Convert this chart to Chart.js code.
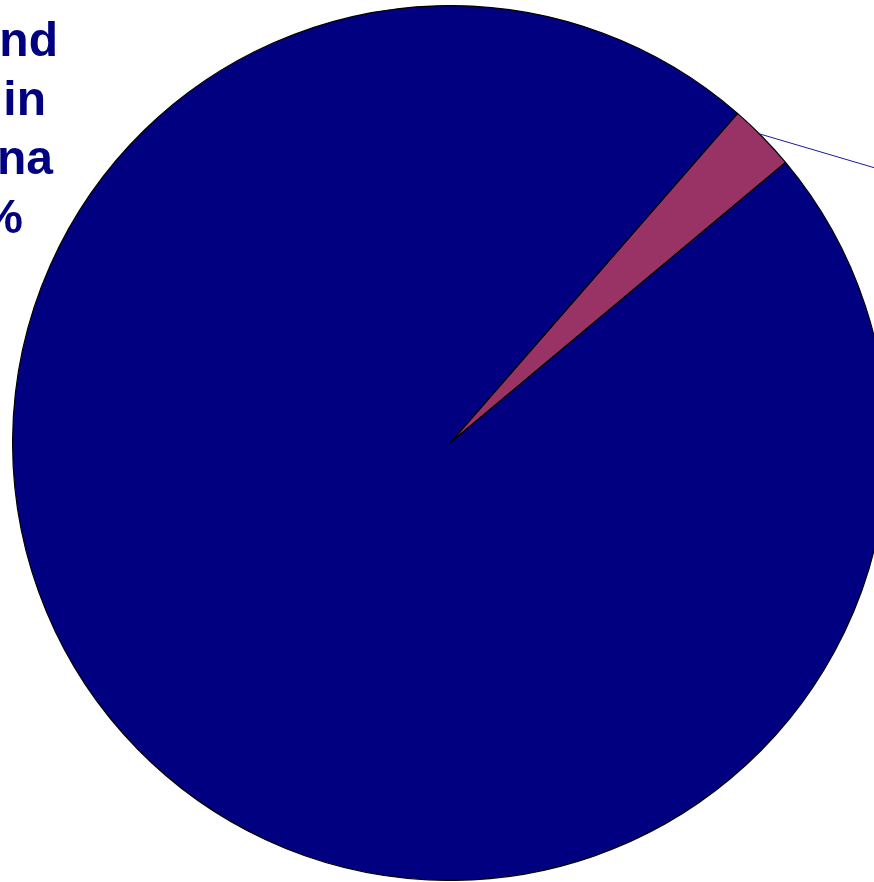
<!DOCTYPE html>
<html>
<head>
<meta charset="utf-8">
<script src="https://cdn.jsdelivr.net/npm/chart.js@4.4.1/dist/chart.umd.min.js"></script>
<style>
  html, body { margin: 0; padding: 0; width: 874px; height: 882px; overflow: hidden; background: #fff; }
  #wrap { position: absolute; left: 12px; top: 5px; width: 876px; height: 876px; }
  .lbl { font: bold 48px "Liberation Sans", Arial, sans-serif; color: #000080; white-space: nowrap; text-align: right; line-height: 59px; }
  #txt { position: absolute; left: -300px; top: 10px; width: 360px; }
</style>
</head>
<body>
<div id="wrap"><canvas id="pie"></canvas></div>
<div id="txt"></div>
<script>
// valori
const labels = ["Small share", "Rest of land in China"];
const values = [2.5, 97.5];
const colors = ["#993366", "#000080"];
const textLines = ["Farmland", "used in", "China", "97%"];
const textPad = [2, 14, 7, 37];

// testo in alto a sinistra (tagliato dal bordo)
const txt = document.getElementById("txt");
textLines.forEach((t, i) => {
  const d = document.createElement("div");
  d.className = "lbl";
  d.style.paddingRight = textPad[i] + "px";
  d.textContent = t;
  txt.appendChild(d);
});

// linea di richiamo verso l'etichetta fuori quadro
const leader = {
  id: "leader",
  afterDraw(chart) {
    const arc = chart.getDatasetMeta(0).data[0];
    const mid = (arc.startAngle + arc.endAngle) / 2 - 0.01;
    const x0 = arc.x + Math.cos(mid) * arc.outerRadius;
    const y0 = arc.y + Math.sin(mid) * arc.outerRadius;
    const c = chart.ctx;
    c.save();
    c.strokeStyle = "#1a1aa0";
    c.lineWidth = 1;
    c.beginPath();
    c.moveTo(x0, y0);
    c.lineTo(x0 + 200, y0 + 59);
    c.stroke();
    c.restore();
  }
};

new Chart(document.getElementById("pie"), {
  type: "pie",
  data: {
    labels: labels,
    datasets: [{
      data: values,
      backgroundColor: colors,
      borderColor: "#000000",
      borderWidth: 1.2,
    }],
  },
  options: {
    responsive: true,
    maintainAspectRatio: false,
    animation: false,
    rotation: 41.1,
    layout: { padding: 0 },
    plugins: {
      legend: { display: false },
      tooltip: { enabled: false },
    },
  },
  plugins: [leader],
});
</script>
</body>
</html>
